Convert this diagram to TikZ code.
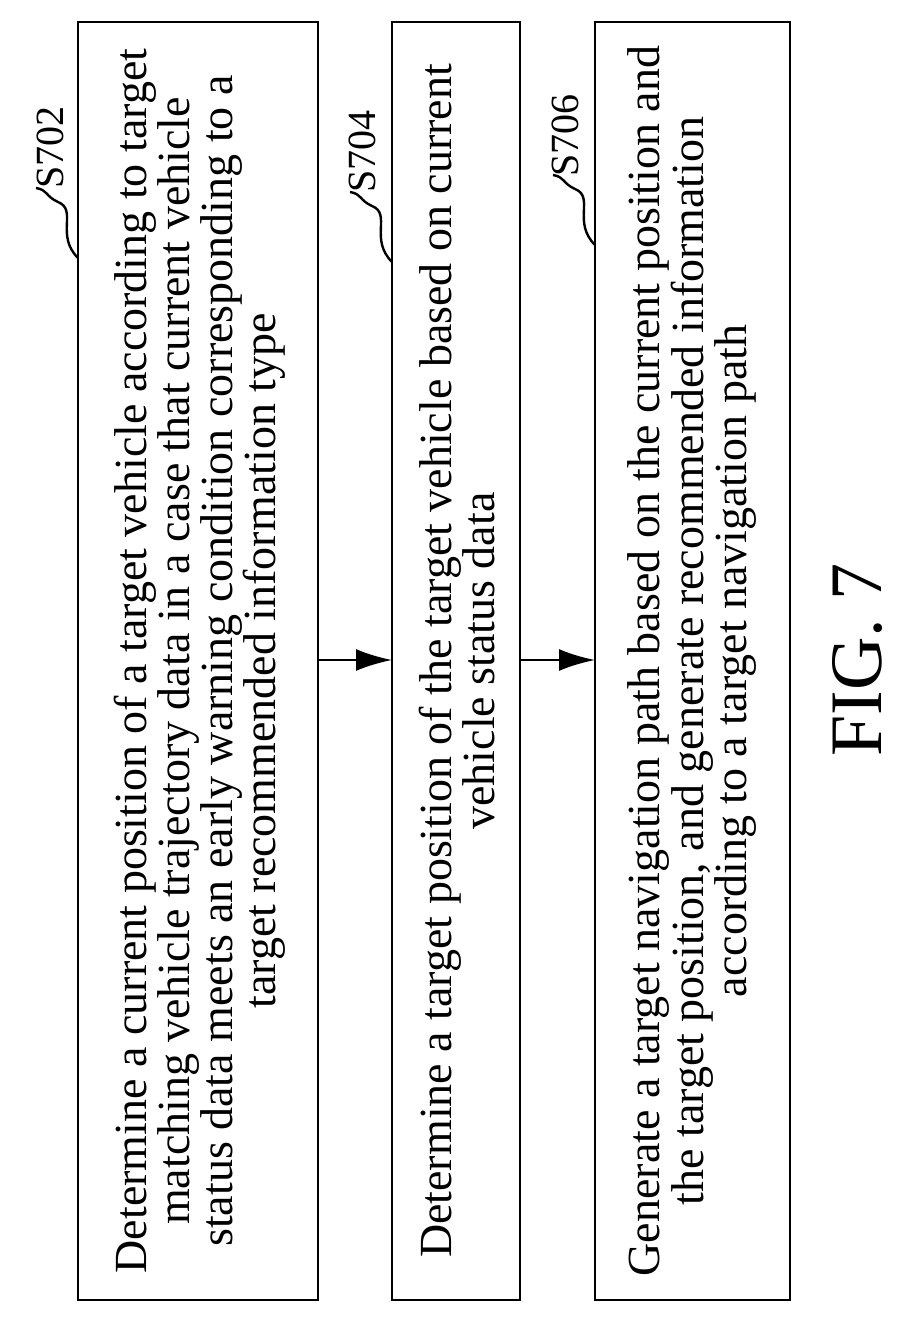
\documentclass[tikz,border=0pt]{standalone}
\usepackage{fontspec}
\setmainfont{Liberation Serif}
\usetikzlibrary{arrows.meta}
\begin{document}
\begin{tikzpicture}[x=1pt,y=-1pt,
  box/.style={draw,line width=2.8pt},
  txt/.style={rotate=90,align=center,font=\fontsize{46}{40.5}\selectfont},
  lab/.style={rotate=90,font=\fontsize{40}{44}\selectfont,anchor=west},
  arr/.style={line width=2.4pt,-{Latex[length=36pt,width=22pt]}},
  sq/.style={line width=2.4pt}]
\useasboundingbox (0,0) rectangle (905,1322);
\draw[box] (78,22) rectangle (318,1300);
\draw[box] (392,22) rectangle (520,1300);
\draw[box] (595,22) rectangle (790,1300);
\node[txt] (t1) at (200,661) {Determine a current position of a target vehicle according to target\\matching vehicle trajectory data in a case that current vehicle\\status data meets an early warning condition corresponding to a\\target recommended information type};
\node[txt] (t2) at (457,661) {Determine a target position of the target vehicle based on current\\vehicle status data};
\node[txt] (t3) at (692,661) {Generate a target navigation path based on the current position and\\the target position, and generate recommended information\\according to a target navigation path};
\coordinate (a1) at (318,660); \coordinate (b1) at (392,660);
\coordinate (a2) at (520,660); \coordinate (b2) at (595,660);
\draw[arr] (a1) -- (b1);
\draw[arr] (a2) -- (b2);
\coordinate (c1) at (78,258); \coordinate (c2) at (392,262); \coordinate (c3) at (595,245);
\draw[sq] (c1) .. controls (55,235) and (78,210) .. (58,202) .. controls (45,196) and (48,190) .. (36,188);
\draw[sq] (c2) .. controls (369,239) and (392,214) .. (372,206) .. controls (359,200) and (362,194) .. (350,192);
\draw[sq] (c3) .. controls (572,222) and (595,197) .. (575,189) .. controls (562,183) and (565,177) .. (553,175);
\node[lab] (l1) at (50,192) {S702};
\node[lab] (l2) at (362,196) {S704};
\node[lab] (l3) at (565,180) {S706};
\node[rotate=90,font=\fontsize{74}{78}\selectfont] (fig) at (858,660) {FIG. 7};
\end{tikzpicture}
\end{document}
